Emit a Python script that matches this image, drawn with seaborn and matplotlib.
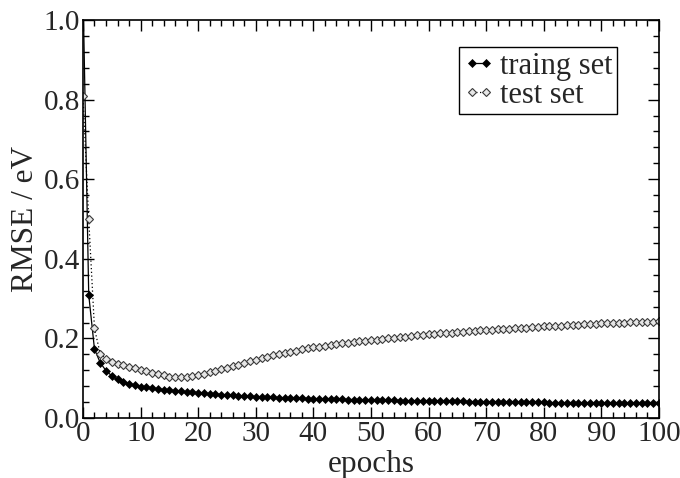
import numpy as np
import pandas as pd
import matplotlib
matplotlib.use("Agg")
import matplotlib.pyplot as plt
import seaborn as sns
from matplotlib.ticker import MultipleLocator

epochs = list(range(0, 101))

train_rmse = [
    1.08, 0.310, 0.173, 0.139, 0.119, 0.106, 0.097, 0.090, 0.086, 0.082,
    0.079, 0.077, 0.0745, 0.073, 0.071, 0.070, 0.0686, 0.0673, 0.066, 0.0648,
    0.0636, 0.0623, 0.061, 0.060, 0.0588, 0.0578, 0.0569, 0.0560, 0.0552, 0.0544,
    0.0536, 0.0530, 0.0524, 0.0518, 0.0513, 0.0508, 0.0503, 0.0498, 0.0494, 0.0490,
    0.0486, 0.0482, 0.0478, 0.0475, 0.0471, 0.0468, 0.0465, 0.0462, 0.0459, 0.0456,
    0.0453, 0.0450, 0.0447, 0.0444, 0.0442, 0.0439, 0.0437, 0.0434, 0.0432, 0.0430,
    0.0427, 0.0425, 0.0423, 0.0421, 0.0419, 0.0417, 0.0415, 0.0413, 0.0411, 0.0409,
    0.0407, 0.0405, 0.0403, 0.0401, 0.0399, 0.0397, 0.0396, 0.0394, 0.0393, 0.0391,
    0.0390, 0.0388, 0.0387, 0.0385, 0.0384, 0.0383, 0.0381, 0.0380, 0.0379, 0.0378,
    0.0376, 0.0375, 0.0374, 0.0373, 0.0372, 0.0371, 0.0370, 0.0369, 0.0368, 0.0367,
    0.0366,
]

test_rmse = [
    0.810, 0.500, 0.225, 0.161, 0.149, 0.1415, 0.1365, 0.133, 0.129, 0.125,
    0.1206, 0.117, 0.113, 0.110, 0.107, 0.104, 0.102, 0.102, 0.103, 0.1055,
    0.108, 0.111, 0.1145, 0.118, 0.122, 0.1256, 0.130, 0.134, 0.138, 0.1424,
    0.1466, 0.1505, 0.154, 0.1574, 0.1606, 0.1638, 0.1667, 0.1696, 0.1722, 0.1748,
    0.1772, 0.1795, 0.1817, 0.1838, 0.1858, 0.1876, 0.1894, 0.1910, 0.1926, 0.1940,
    0.1953, 0.1970, 0.1986, 0.2002, 0.2017, 0.2032, 0.2047, 0.2061, 0.2075, 0.2088,
    0.2101, 0.2113, 0.2125, 0.2137, 0.2148, 0.2159, 0.2170, 0.2180, 0.2190, 0.2200,
    0.2209, 0.2218, 0.2227, 0.2236, 0.2245, 0.2254, 0.2263, 0.2272, 0.2281, 0.2290,
    0.2300, 0.2308, 0.2316, 0.2324, 0.2332, 0.2340, 0.2348, 0.2356, 0.2364, 0.2372,
    0.2380, 0.2385, 0.2390, 0.2395, 0.2400, 0.2405, 0.2410, 0.2415, 0.2420, 0.2425,
    0.2430,
]

x_ticks = [0, 10, 20, 30, 40, 50, 60, 70, 80, 90, 100]
y_ticks = [0.0, 0.2, 0.4, 0.6, 0.8, 1.0]
y_tick_labels = ["0.0", "0.2", "0.4", "0.6", "0.8", "1.0"]

sns.set_style("ticks")
plt.rcParams["font.family"] = ["Liberation Serif", "DejaVu Serif"]

fig = plt.figure(figsize=(6.8, 4.78), dpi=100)
ax = fig.add_axes([0.122, 0.1255, 0.847, 0.8325])

df_train = pd.DataFrame({"epoch": epochs, "rmse": train_rmse})
df_test = pd.DataFrame({"epoch": epochs, "rmse": test_rmse})

sns.lineplot(data=df_train, x="epoch", y="rmse", ax=ax, color="black",
             linewidth=0.9, linestyle="-", marker="D", markersize=4.2,
             markerfacecolor="black", markeredgecolor="black",
             markeredgewidth=0.5, label="traing set")
sns.lineplot(data=df_test, x="epoch", y="rmse", ax=ax, color="black",
             linewidth=0.9, linestyle=(0, (1, 2)), marker="D", markersize=3.8,
             markerfacecolor="#e6e6e6", markeredgecolor="#3a3a3a",
             markeredgewidth=0.8, label="test set")

ax.set_xlim(0, 100)
ax.set_ylim(0, 1.0)
ax.set_xticks(x_ticks)
ax.set_yticks(y_ticks)
ax.set_yticklabels(y_tick_labels)
ax.xaxis.set_minor_locator(MultipleLocator(2))
ax.yaxis.set_minor_locator(MultipleLocator(0.04))
ax.tick_params(which="both", direction="in", top=True, right=True,
               width=1.0, color="black")
ax.tick_params(which="major", length=8, labelsize=21, pad=2)
ax.tick_params(which="minor", length=4)
for s in ax.spines.values():
    s.set_linewidth(1.2)
    s.set_color("black")

ax.set_xlabel("epochs", fontsize=22.5, labelpad=2)
ax.set_ylabel("RMSE / eV", fontsize=22.5, labelpad=3)

leg = ax.legend(loc="upper right", bbox_to_anchor=(0.927, 0.932),
                borderaxespad=0, fontsize=22, handlelength=1.05,
                numpoints=2, frameon=True, fancybox=False,
                labelspacing=0.0, borderpad=0.15, handletextpad=0.15,
                edgecolor="black")
leg.get_frame().set_linewidth(1.0)
leg.get_frame().set_alpha(1)

fig.savefig("out.png", dpi=100)
